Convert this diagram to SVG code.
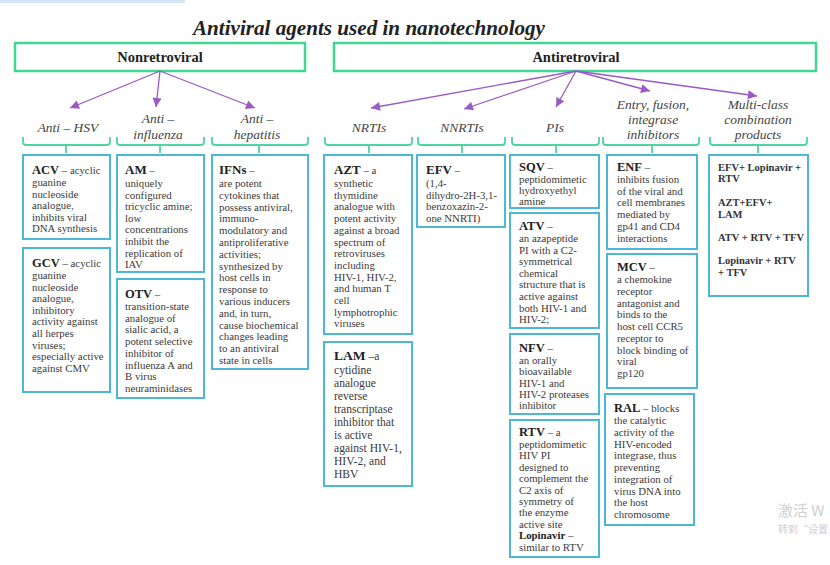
<svg xmlns="http://www.w3.org/2000/svg" width="830" height="565" viewBox="0 0 830 565">
<defs>
<style>
.box{fill:#fff;stroke:#4db7d6;stroke-width:2}
.gbox{fill:#fff;stroke:#3fd892;stroke-width:2.5}
.b{font-family:"Liberation Serif","Times New Roman",serif;font-size:10.8px;fill:#3a3a3a}
.h{font-weight:bold;font-size:13px;fill:#222}
.hs{font-weight:bold;font-size:12.5px;fill:#222}
.lab{font-family:"Liberation Serif","Times New Roman",serif;font-style:italic;font-size:13.5px;fill:#444;text-anchor:middle}
.top{font-family:"Liberation Serif","Times New Roman",serif;font-weight:bold;font-size:14.5px;fill:#222;text-anchor:middle}
.arr{stroke:#9b59c6;stroke-width:1.3;fill:none;marker-end:url(#ah)}
.br{stroke:#4fd3a0;stroke-width:1.8;fill:none}
.mb{font-family:"Liberation Serif","Times New Roman",serif;font-weight:bold;font-size:10.5px;fill:#333}
.wm{font-family:"Noto Sans CJK SC","Noto Sans",sans-serif;fill:#cfcfcf}
</style>
<marker id="ah" viewBox="0 0 10 10" refX="10" refY="5" markerWidth="10" markerHeight="9" orient="auto" markerUnits="userSpaceOnUse"><path d="M0,0 L10,5 L0,10 z" fill="#9b59c6"/></marker>
</defs>
<rect width="830" height="565" fill="#fff"/>
<rect x="0" y="0" width="185" height="3" fill="#d6e6f7"/>
<text x="369" y="35" font-family="'Liberation Serif','Times New Roman',serif" font-weight="bold" font-style="italic" font-size="21" fill="#222" text-anchor="middle" textLength="352" lengthAdjust="spacingAndGlyphs">Antiviral agents used in nanotechnology</text>

<g id="nonretroviral"><rect class="gbox" x="15" y="43" width="290" height="28"/><text class="top" x="160" y="62">Nonretroviral</text></g>
<g id="antiretroviral"><rect class="gbox" x="334" y="43" width="482" height="28"/><text class="top" x="576" y="62">Antiretroviral</text></g>

<g id="connectors">
<path class="arr" d="M160,71 L70,108"/>
<path class="arr" d="M160,71 L156,107"/>
<path class="arr" d="M160,71 L255,108"/>
<path class="arr" d="M576,71 L371,108"/>
<path class="arr" d="M576,71 L464,109"/>
<path class="arr" d="M576,71 L556,107"/>
<path class="arr" d="M576,71 L650,91"/>
<path class="arr" d="M576,71 L757,96"/>
<path class="br" d="M23,137 v5 q0,3 3,3 H107 q3,0 3,-3 v-5 M66,145 V153"/>
<path class="br" d="M117,137 v5 q0,3 3,3 H201 q3,0 3,-3 v-5 M160,145 V153"/>
<path class="br" d="M212,137 v5 q0,3 3,3 H305 q3,0 3,-3 v-5 M259,145 V153"/>
<path class="br" d="M325,137 v5 q0,3 3,3 H409 q3,0 3,-3 v-5 M369,145 V153"/>
<path class="br" d="M418,137 v5 q0,3 3,3 H502 q3,0 3,-3 v-5 M462,145 V153"/>
<path class="br" d="M512,137 v5 q0,3 3,3 H596 q3,0 3,-3 v-5 M556,145 V153"/>
<path class="br" d="M603,137 v5 q0,3 3,3 H696 q3,0 3,-3 v-5 M652,145 V153"/>
<path class="br" d="M710,137 v5 q0,3 3,3 H804 q3,0 3,-3 v-5 M758,145 V153"/>
</g>

<g id="labels">
<text class="lab" x="68" y="132">Anti – HSV</text>
<text class="lab" x="158" y="123">Anti –</text><text class="lab" x="158" y="139">influenza</text>
<text class="lab" x="257" y="123">Anti –</text><text class="lab" x="257" y="139">hepatitis</text>
<text class="lab" x="369" y="132">NRTIs</text>
<text class="lab" x="462" y="132">NNRTIs</text>
<text class="lab" x="555" y="132">PIs</text>
<text class="lab" x="653" y="109">Entry, fusion,</text><text class="lab" x="653" y="124">integrase</text><text class="lab" x="653" y="139">inhibitors</text>
<text class="lab" x="758" y="109">Multi-class</text><text class="lab" x="758" y="124">combination</text><text class="lab" x="758" y="139">products</text>
</g>

<g id="acv"><rect class="box" x="23" y="155" width="87" height="84"/>
<text class="b" x="32"><tspan y="173.5"><tspan class="hs">ACV</tspan> – acyclic</tspan><tspan x="32" y="186">guanine</tspan><tspan x="32" y="197.5">nucleoside</tspan><tspan x="32" y="209">analogue,</tspan><tspan x="32" y="220.5">inhibits viral</tspan><tspan x="32" y="232">DNA synthesis</tspan></text></g>

<g id="gcv"><rect class="box" x="23" y="248" width="87" height="144"/>
<text class="b" x="32"><tspan y="266.5"><tspan class="hs">GCV</tspan> – acyclic</tspan><tspan x="32" y="279">guanine</tspan><tspan x="32" y="290.6">nucleoside</tspan><tspan x="32" y="302.2">analogue,</tspan><tspan x="32" y="313.8">inhibitory</tspan><tspan x="32" y="325.4">activity against</tspan><tspan x="32" y="337">all herpes</tspan><tspan x="32" y="348.6">viruses;</tspan><tspan x="32" y="360.2">especially active</tspan><tspan x="32" y="371.8">against CMV</tspan></text></g>

<g id="am"><rect class="box" x="117" y="155" width="87" height="117"/>
<text class="b" x="125"><tspan y="174"><tspan class="h">AM</tspan> –</tspan><tspan x="125" y="187">uniquely</tspan><tspan x="125" y="198.6">configured</tspan><tspan x="125" y="210.2">tricyclic amine;</tspan><tspan x="125" y="221.8">low</tspan><tspan x="125" y="233.4">concentrations</tspan><tspan x="125" y="245">inhibit the</tspan><tspan x="125" y="256.6">replication of</tspan><tspan x="125" y="268.2">IAV</tspan></text></g>

<g id="otv"><rect class="box" x="117" y="279" width="87" height="119"/>
<text class="b" x="125"><tspan y="297.5"><tspan class="hs">OTV</tspan> –</tspan><tspan x="125" y="310">transition-state</tspan><tspan x="125" y="321.7">analogue of</tspan><tspan x="125" y="333.4">sialic acid, a</tspan><tspan x="125" y="345.1">potent selective</tspan><tspan x="125" y="356.8">inhibitor of</tspan><tspan x="125" y="368.5">influenza A and</tspan><tspan x="125" y="380.2">B virus</tspan><tspan x="125" y="391.9">neuraminidases</tspan></text></g>

<g id="ifns"><rect class="box" x="212" y="155" width="96" height="214"/>
<text class="b" x="219"><tspan y="174"><tspan class="h">IFNs</tspan> –</tspan><tspan x="219" y="187">are potent</tspan><tspan x="219" y="198.8">cytokines that</tspan><tspan x="219" y="210.6">possess antiviral,</tspan><tspan x="219" y="222.4">immuno-</tspan><tspan x="219" y="234.2">modulatory and</tspan><tspan x="219" y="246">antiproliferative</tspan><tspan x="219" y="257.8">activities;</tspan><tspan x="219" y="269.6">synthesized by</tspan><tspan x="219" y="281.4">host cells in</tspan><tspan x="219" y="293.2">response to</tspan><tspan x="219" y="305">various inducers</tspan><tspan x="219" y="316.8">and, in turn,</tspan><tspan x="219" y="328.6">cause biochemical</tspan><tspan x="219" y="340.4">changes leading</tspan><tspan x="219" y="352.2">to an antiviral</tspan><tspan x="219" y="364">state in cells</tspan></text></g>

<g id="azt"><rect class="box" x="324" y="155" width="88" height="179"/>
<text class="b" x="334"><tspan y="174"><tspan class="h">AZT</tspan> – a</tspan><tspan x="334" y="187">synthetic</tspan><tspan x="334" y="198.7">thymidine</tspan><tspan x="334" y="210.4">analogue with</tspan><tspan x="334" y="222.1">potent activity</tspan><tspan x="334" y="233.8">against a broad</tspan><tspan x="334" y="245.5">spectrum of</tspan><tspan x="334" y="257.2">retroviruses</tspan><tspan x="334" y="268.9">including</tspan><tspan x="334" y="280.6">HIV-1, HIV-2,</tspan><tspan x="334" y="292.3">and human T</tspan><tspan x="334" y="304">cell</tspan><tspan x="334" y="315.7">lymphotrophic</tspan><tspan x="334" y="327.4">viruses</tspan></text></g>

<g id="lam"><rect class="box" x="324" y="342" width="88" height="144"/>
<text class="b" x="334" style="font-size:11.6px"><tspan y="360"><tspan class="h" style="font-size:13.5px">LAM</tspan> –a</tspan><tspan x="334" y="373.5">cytidine</tspan><tspan x="334" y="386.5">analogue</tspan><tspan x="334" y="399.5">reverse</tspan><tspan x="334" y="412.5">transcriptase</tspan><tspan x="334" y="425.5">inhibitor that</tspan><tspan x="334" y="438.5">is active</tspan><tspan x="334" y="451.5">against HIV-1,</tspan><tspan x="334" y="464.5">HIV-2, and</tspan><tspan x="334" y="477.5">HBV</tspan></text></g>

<g id="efv"><rect class="box" x="417" y="155" width="88" height="72"/>
<text class="b" x="426"><tspan y="174"><tspan class="h">EFV</tspan> –</tspan><tspan x="426" y="187">(1,4-</tspan><tspan x="426" y="198.7">dihydro-2H-3,1-</tspan><tspan x="426" y="210.4">benzoxazin-2-</tspan><tspan x="426" y="222.1">one NNRTI)</tspan></text></g>

<g id="sqv"><rect class="box" x="510" y="155" width="89" height="53"/>
<text class="b" x="519"><tspan y="170.5"><tspan class="hs">SQV</tspan> –</tspan><tspan x="519" y="183">peptidomimetic</tspan><tspan x="519" y="194">hydroxyethyl</tspan><tspan x="519" y="205">amine</tspan></text></g>

<g id="atv"><rect class="box" x="510" y="213" width="89" height="115"/>
<text class="b" x="519"><tspan y="229.5"><tspan class="hs">ATV</tspan> –</tspan><tspan x="519" y="242">an azapeptide</tspan><tspan x="519" y="253.6">PI with a C2-</tspan><tspan x="519" y="265.2">symmetrical</tspan><tspan x="519" y="276.8">chemical</tspan><tspan x="519" y="288.4">structure that is</tspan><tspan x="519" y="300">active against</tspan><tspan x="519" y="311.6">both HIV-1 and</tspan><tspan x="519" y="323.2">HIV-2;</tspan></text></g>

<g id="nfv"><rect class="box" x="510" y="334" width="89" height="80"/>
<text class="b" x="519"><tspan y="351.5"><tspan class="hs">NFV</tspan> –</tspan><tspan x="519" y="364">an orally</tspan><tspan x="519" y="375.3">bioavailable</tspan><tspan x="519" y="386.6">HIV-1 and</tspan><tspan x="519" y="397.9">HIV-2 proteases</tspan><tspan x="519" y="409.2">inhibitor</tspan></text></g>

<g id="rtv"><rect class="box" x="510" y="420" width="89" height="137"/>
<text class="b" x="519"><tspan y="435.5"><tspan class="hs">RTV</tspan> – a</tspan><tspan x="519" y="448">peptidomimetic</tspan><tspan x="519" y="459.4">HIV PI</tspan><tspan x="519" y="470.8">designed to</tspan><tspan x="519" y="482.2">complement the</tspan><tspan x="519" y="493.6">C2 axis of</tspan><tspan x="519" y="505">symmetry of</tspan><tspan x="519" y="516.4">the enzyme</tspan><tspan x="519" y="527.8">active site</tspan><tspan x="519" y="539.2"><tspan font-weight="bold" fill="#222">Lopinavir</tspan> –</tspan><tspan x="519" y="550.6">similar to RTV</tspan></text></g>

<g id="enf"><rect class="box" x="607" y="155" width="90" height="94"/>
<text class="b" x="617"><tspan y="170.5"><tspan class="hs">ENF</tspan> –</tspan><tspan x="617" y="183">inhibits fusion</tspan><tspan x="617" y="194.7">of the viral and</tspan><tspan x="617" y="206.4">cell membranes</tspan><tspan x="617" y="218.1">mediated by</tspan><tspan x="617" y="229.8">gp41 and CD4</tspan><tspan x="617" y="241.5">interactions</tspan></text></g>

<g id="mcv"><rect class="box" x="607" y="254" width="90" height="134"/>
<text class="b" x="617"><tspan y="270.5"><tspan class="hs">MCV</tspan> –</tspan><tspan x="617" y="283">a chemokine</tspan><tspan x="617" y="294.75">receptor</tspan><tspan x="617" y="306.5">antagonist and</tspan><tspan x="617" y="318.25">binds to the</tspan><tspan x="617" y="330">host cell CCR5</tspan><tspan x="617" y="341.75">receptor to</tspan><tspan x="617" y="353.5">block binding of</tspan><tspan x="617" y="365.25">viral</tspan><tspan x="617" y="377">gp120</tspan></text></g>

<g id="ral"><rect class="box" x="605" y="394" width="89" height="131"/>
<text class="b" x="614"><tspan y="411.5"><tspan class="hs">RAL</tspan> – blocks</tspan><tspan x="614" y="424">the catalytic</tspan><tspan x="614" y="435.75">activity of the</tspan><tspan x="614" y="447.5">HIV-encoded</tspan><tspan x="614" y="459.25">integrase, thus</tspan><tspan x="614" y="471">preventing</tspan><tspan x="614" y="482.75">integration of</tspan><tspan x="614" y="494.5">virus DNA into</tspan><tspan x="614" y="506.25">the host</tspan><tspan x="614" y="518">chromosome</tspan></text></g>

<g id="multi"><rect class="box" x="709" y="155" width="99" height="141"/>
<text class="mb" x="718"><tspan y="171">EFV+ Lopinavir +</tspan><tspan x="718" y="182">RTV</tspan><tspan x="718" y="206">AZT+EFV+</tspan><tspan x="718" y="217.5">LAM</tspan><tspan x="718" y="241">ATV + RTV + TFV</tspan><tspan x="718" y="264">Lopinavir + RTV</tspan><tspan x="718" y="276">+ TFV</tspan></text></g>

<text class="wm" x="778" y="516" font-size="15">激活 W</text>
<text class="wm" x="778" y="533" font-size="10">转到“设置</text>
</svg>
